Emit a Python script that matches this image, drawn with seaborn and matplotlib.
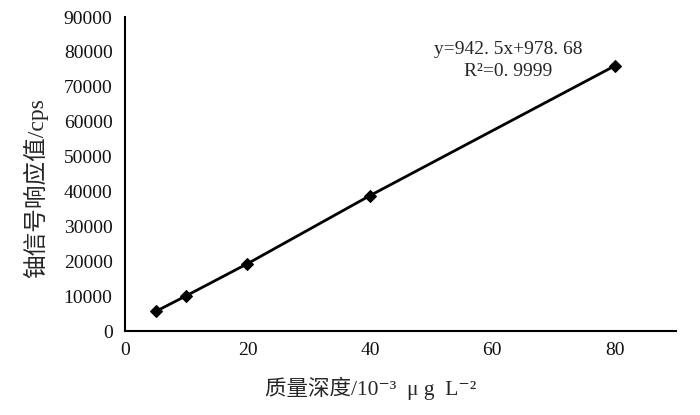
import matplotlib
matplotlib.use('Agg')
import pandas as pd
import seaborn as sns
import matplotlib.pyplot as plt

# Calibration data
mass_depth = [5, 10, 20, 40, 80]
signal = [5600, 10100, 19300, 38800, 76000]
x_ticks = [0, 20, 40, 60, 80]
y_ticks = [0, 10000, 20000, 30000, 40000, 50000, 60000, 70000, 80000, 90000]

df = pd.DataFrame({'mass_depth': mass_depth, 'signal': signal})

sns.set_style('white')
plt.rcParams['font.family'] = ['Liberation Serif', 'Noto Sans CJK SC', 'DejaVu Sans']

fig = plt.figure(figsize=(7, 4.15), dpi=100)
ax = fig.add_axes([0.1786, 0.2024, 0.7871, 0.7566])

sns.lineplot(data=df, x='mass_depth', y='signal', ax=ax, color='black',
             linewidth=2, marker='D', markersize=6.5, markeredgecolor='black')

ax.set_xlim(0, 90)
ax.set_ylim(0, 90000)
ax.set_xticks(x_ticks)
ax.set_yticks(y_ticks)
ax.tick_params(axis='y', labelsize=14, length=0, pad=9, colors='#111111')
ax.tick_params(axis='x', labelsize=14, length=0, pad=8, colors='#111111')

for side in ['top', 'right']:
    ax.spines[side].set_visible(False)
for side in ['left', 'bottom']:
    ax.spines[side].set_color('black')
    ax.spines[side].set_linewidth(1.5)

ax.set_xlabel('质量深度/10⁻³  μ g  L⁻²', fontsize=15.5,
              family=['Liberation Serif', 'Noto Sans CJK SC', 'DejaVu Serif'])
ax.xaxis.set_label_coords(0.445, -0.145)
ax.set_ylabel('铀信号响应值/cps', fontsize=17,
              family=['Liberation Serif', 'Noto Sans CJK SC', 'DejaVu Serif'])
ax.yaxis.set_label_coords(-0.14, 0.455)

ax.text(0.695, 0.895, 'y=942. 5x+978. 68', transform=ax.transAxes,
        ha='center', va='center', fontsize=14)
ax.text(0.695, 0.825, 'R²=0. 9999', transform=ax.transAxes,
        ha='center', va='center', fontsize=14)

fig.savefig('out.png', dpi=100)
